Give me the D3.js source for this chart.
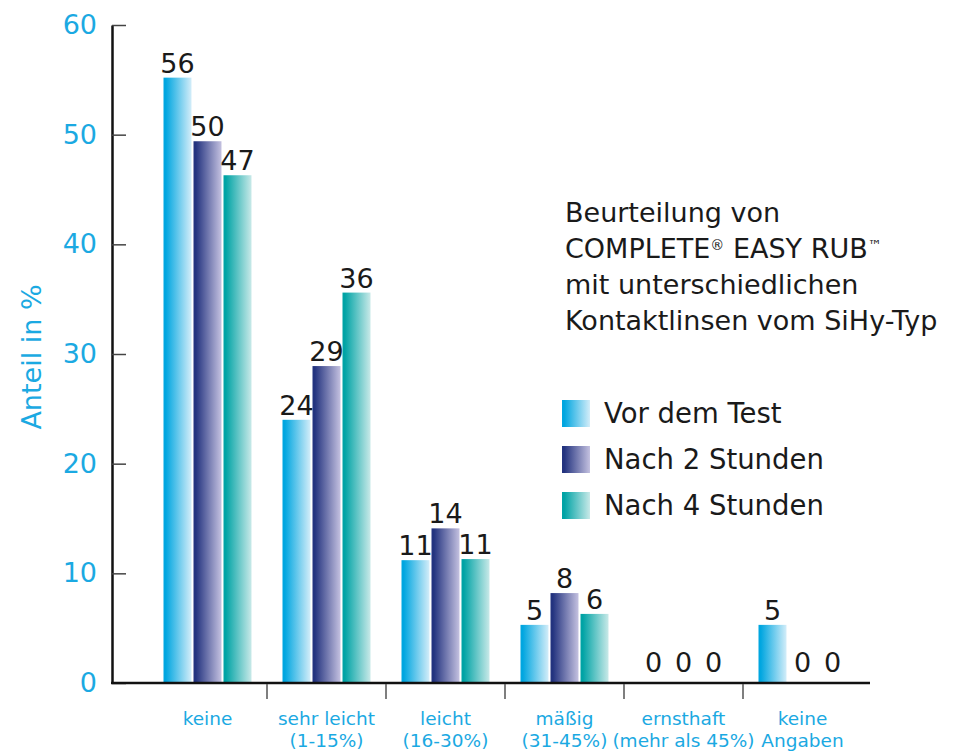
<!DOCTYPE html>
<html lang="de">
  <head>
    <meta charset="UTF-8" />
    <title>Beurteilung von COMPLETE EASY RUB</title>
    <style>
      body {
        margin: 0;
        background: #fff;
      }
      svg text {
        font-family: "DejaVu Sans", sans-serif;
      }
      .axis-text {
        fill: #1ba9e2;
      }
      .value-label {
        fill: #1a1a1a;
        font-size: 27px;
        text-anchor: middle;
      }
    </style>
  </head>
  <body>
    <script src="https://d3js.org/d3.v7.min.js"></script>
    <script>
      // Kategorien (Zeilenumbruch mit \n)
      const categories = [
        "keine",
        "sehr leicht\n(1-15%)",
        "leicht\n(16-30%)",
        "mäßig\n(31-45%)",
        "ernsthaft\n(mehr als 45%)",
        "keine\nAngaben",
      ];
      const series = ["Vor dem Test", "Nach 2 Stunden", "Nach 4 Stunden"];

      // Balkenhöhen, wie sie im Bild gezeichnet sind
      const vorDemTest = [55.2, 24.0, 11.2, 5.3, 0, 5.3];
      const nach2Stunden = [49.4, 28.9, 14.1, 8.2, 0, 0];
      const nach4Stunden = [46.3, 35.6, 11.3, 6.3, 0, 0];

      // Beschriftungen über den Balken
      const vorDemTestLabels = [56, 24, 11, 5, 0, 5];
      const nach2StundenLabels = [50, 29, 14, 8, 0, 0];
      const nach4StundenLabels = [47, 36, 11, 6, 0, 0];

      const yTicks = [0, 10, 20, 30, 40, 50, 60];

      const gradientStart = ["#00a6e0", "#23337f", "#00a3a5"];
      const gradientEnd = ["#d3edf9", "#c4c1e0", "#c8e9e8"];

      const titleLines = [
        "Beurteilung von",
        "COMPLETE® EASY RUB™",
        "mit unterschiedlichen",
        "Kontaktlinsen vom SiHy-Typ",
      ];

      const width = 954;
      const height = 754;
      const plot = { left: 112, right: 870, top: 25, bottom: 683 };

      const values = [vorDemTest, nach2Stunden, nach4Stunden];
      const labels = [vorDemTestLabels, nach2StundenLabels, nach4StundenLabels];

      const data = categories.map((c, i) => ({
        category: c,
        bars: series.map((s, j) => ({
          series: s,
          index: j,
          value: values[j][i],
          label: labels[j][i],
        })),
      }));

      const svg = d3
        .select("body")
        .append("svg")
        .attr("width", width)
        .attr("height", height);

      const defs = svg.append("defs");
      series.forEach((s, j) => {
        const g = defs
          .append("linearGradient")
          .attr("id", "grad" + j)
          .attr("x1", 0)
          .attr("x2", 1)
          .attr("y1", 0)
          .attr("y2", 0);
        g.append("stop").attr("offset", "0.08").attr("stop-color", gradientStart[j]);
        g.append("stop").attr("offset", "1").attr("stop-color", gradientEnd[j]);
      });

      const xScale = d3
        .scaleBand()
        .domain(categories)
        .range([148, 862])
        .paddingInner(0)
        .paddingOuter(0);

      const groupInset = (xScale.bandwidth() - 88) / 2;
      const xInner = d3
        .scaleBand()
        .domain(series)
        .range([groupInset, groupInset + 88])
        .paddingInner(2 / 30);

      const yScale = d3
        .scaleLinear()
        .domain([0, 60])
        .range([plot.bottom, plot.top]);

      // Balken
      const groups = svg
        .append("g")
        .selectAll("g")
        .data(data)
        .join("g")
        .attr("transform", (d) => `translate(${xScale(d.category)},0)`);

      groups
        .selectAll("rect")
        .data((d) => d.bars.filter((b) => b.value > 0))
        .join("rect")
        .attr("x", (d) => xInner(d.series))
        .attr("y", (d) => yScale(d.value))
        .attr("width", xInner.bandwidth())
        .attr("height", (d) => yScale(0) - yScale(d.value))
        .attr("fill", (d) => `url(#grad${d.index})`);

      groups
        .selectAll("text")
        .data((d) => d.bars)
        .join("text")
        .attr("class", "value-label")
        .attr("x", (d) => xInner(d.series) + xInner.bandwidth() / 2)
        .attr("y", (d) => yScale(d.value) - (d.value > 0 ? 5 : 11))
        .text((d) => d.label);

      // y-Achse
      const yAxis = d3
        .axisLeft(yScale)
        .tickValues(yTicks)
        .tickSizeInner(-14)
        .tickSizeOuter(0)
        .tickPadding(15);

      const yAxisG = svg
        .append("g")
        .attr("transform", `translate(${plot.left},0)`)
        .call(yAxis);
      yAxisG.select(".domain").attr("stroke", "#111").attr("stroke-width", 2.5);
      yAxisG.selectAll(".tick line").attr("stroke", "#444").attr("stroke-width", 1.5);
      yAxisG
        .selectAll(".tick text")
        .attr("class", "axis-text")
        .attr("font-size", 27)
        .attr("font-family", null);

      svg
        .append("text")
        .attr("class", "axis-text")
        .attr("font-size", 27)
        .attr("text-anchor", "middle")
        .attr("transform", "translate(41,357) rotate(-90)")
        .text("Anteil in %");

      // x-Achse
      svg
        .append("line")
        .attr("x1", plot.left - 1)
        .attr("x2", plot.right)
        .attr("y1", plot.bottom)
        .attr("y2", plot.bottom)
        .attr("stroke", "#111")
        .attr("stroke-width", 2.5);

      svg
        .append("g")
        .selectAll("line")
        .data(categories.slice(1))
        .join("line")
        .attr("x1", (d) => xScale(d))
        .attr("x2", (d) => xScale(d))
        .attr("y1", plot.bottom + 1)
        .attr("y2", plot.bottom + 16)
        .attr("stroke", "#555")
        .attr("stroke-width", 1.5);

      const xLabels = svg
        .append("g")
        .selectAll("text")
        .data(categories)
        .join("text")
        .attr("class", "axis-text")
        .attr("font-size", 18.5)
        .attr("text-anchor", "middle")
        .attr("y", 725);

      xLabels
        .selectAll("tspan")
        .data((d) => d.split("\n").map((t) => ({ t, c: d })))
        .join("tspan")
        .attr("x", (d) => xScale(d.c) + xScale.bandwidth() / 2)
        .attr("dy", (d, i) => (i === 0 ? 0 : 22))
        .text((d) => d.t);

      // Titel
      const title = svg
        .append("g")
        .attr("font-size", 27)
        .attr("fill", "#1a1a1a");

      title
        .selectAll("text")
        .data(titleLines)
        .join("text")
        .attr("x", 565)
        .attr("y", (d, i) => 222 + i * 36)
        .each(function (d) {
          const el = d3.select(this);
          // ® und ™ hochgestellt
          d.split(/([®™])/).forEach((part) => {
            if (!part) return;
            if (part === "®" || part === "™") {
              el.append("tspan")
                .attr("font-size", 14)
                .attr("baseline-shift", "55%")
                .text(part);
            } else {
              el.append("tspan").text(part);
            }
          });
        });

      // Legende
      const legend = svg
        .append("g")
        .selectAll("g")
        .data(series)
        .join("g")
        .attr("transform", (d, i) => `translate(562,${400 + i * 46})`);

      legend
        .append("rect")
        .attr("width", 28)
        .attr("height", 27)
        .attr("fill", (d, i) => `url(#grad${i})`);

      legend
        .append("text")
        .attr("x", 42)
        .attr("y", 23)
        .attr("font-size", 27.5)
        .attr("fill", "#1a1a1a")
        .text((d) => d);
    </script>
  </body>
</html>
